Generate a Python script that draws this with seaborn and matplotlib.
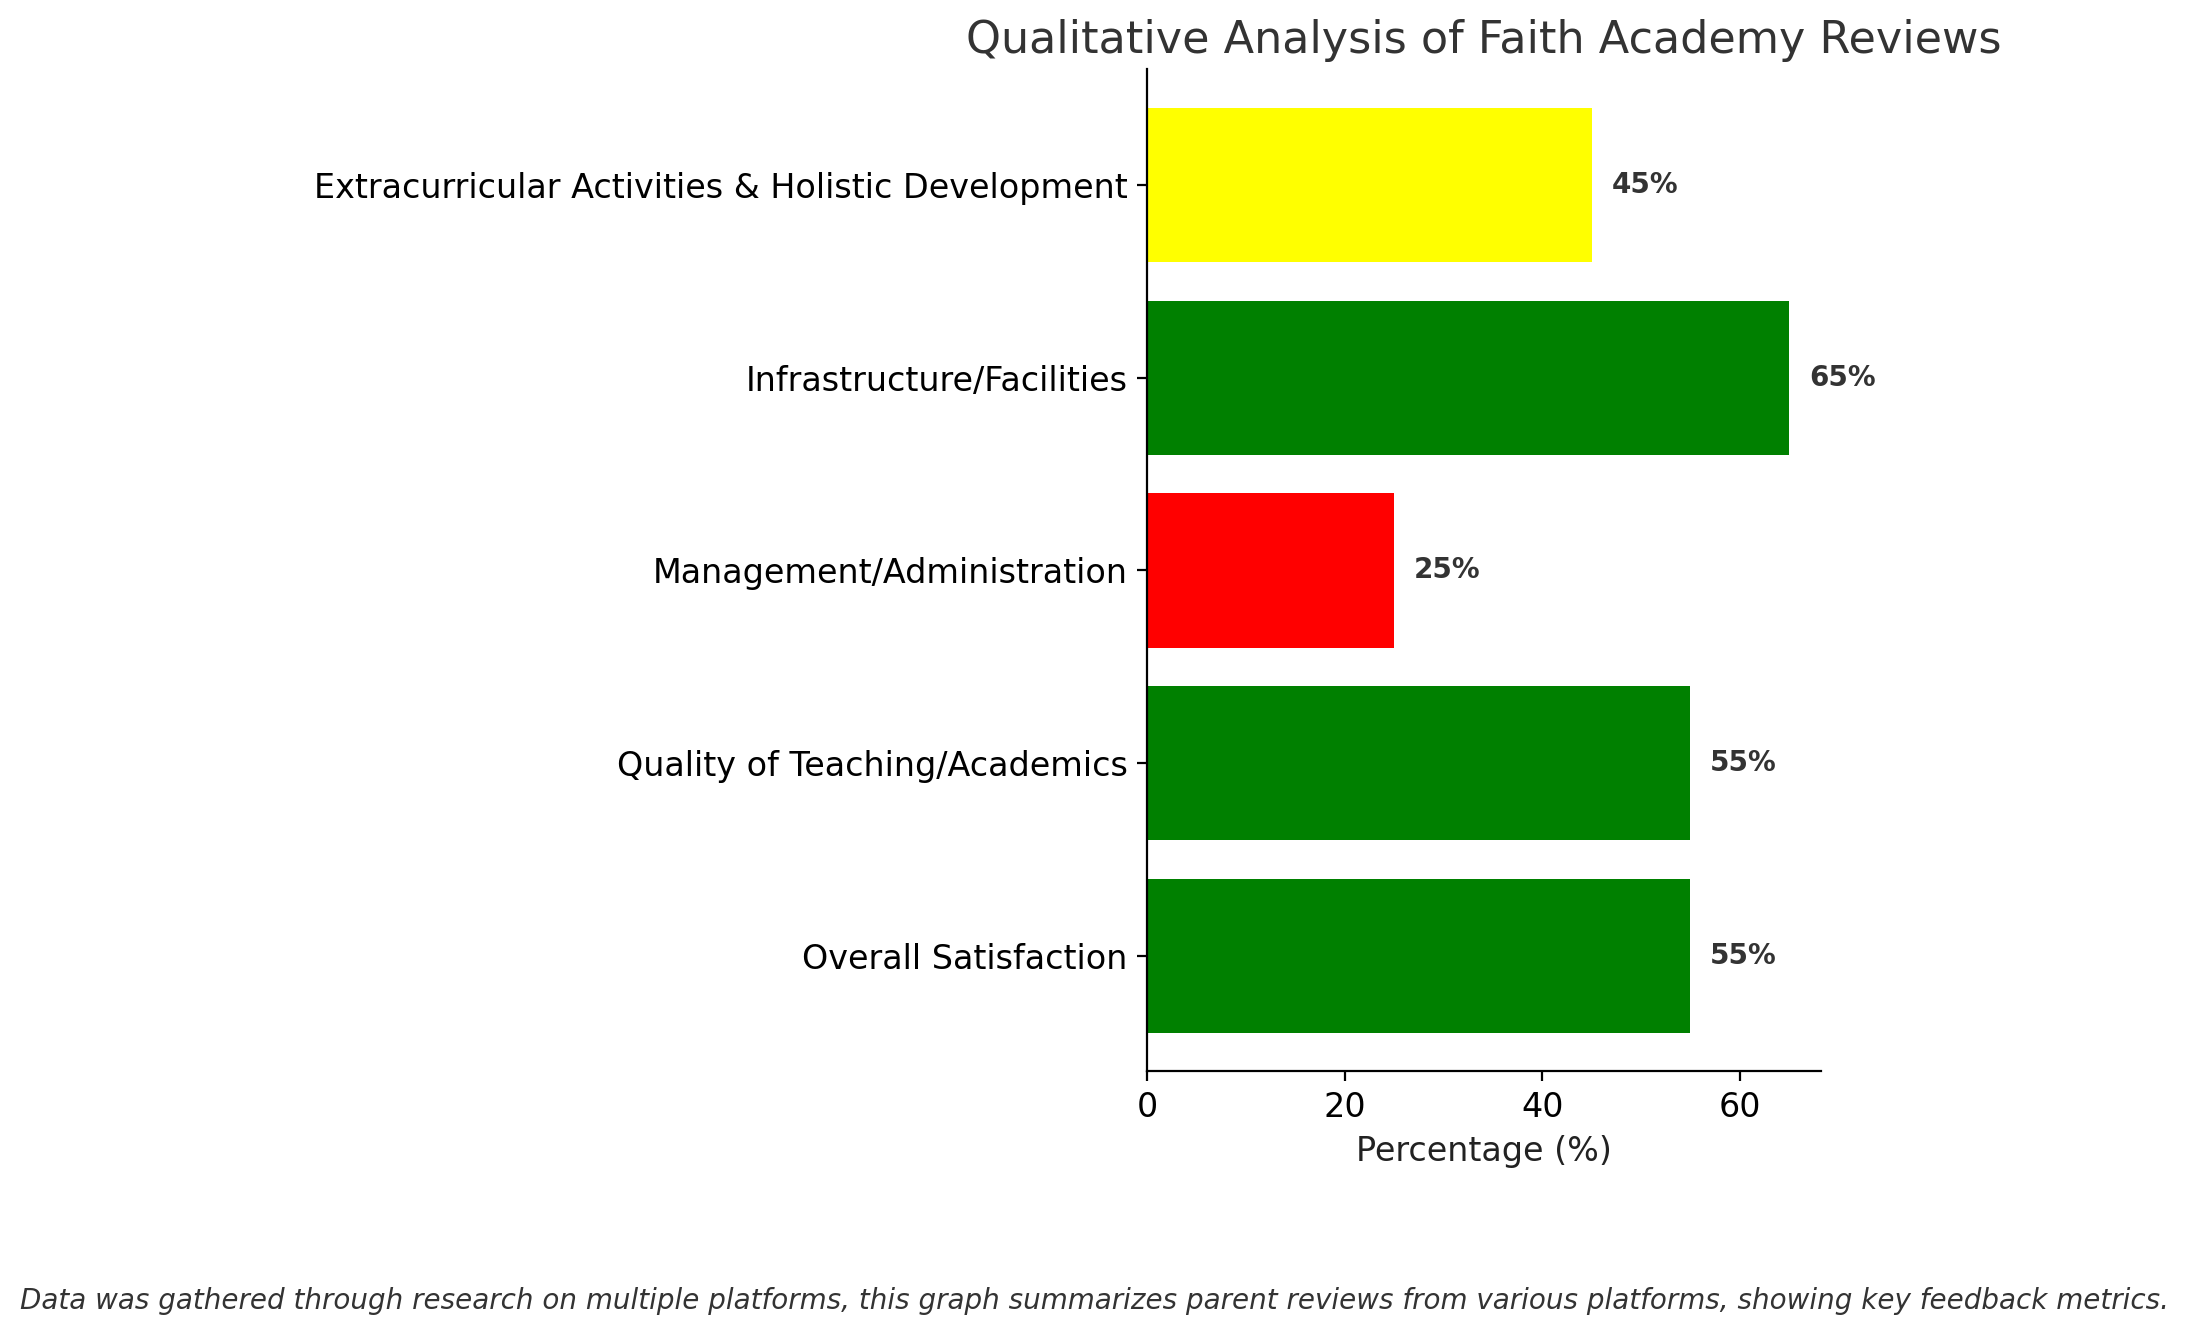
import matplotlib
matplotlib.use("Agg")
import matplotlib.pyplot as plt
import seaborn as sns
import pandas as pd

categories = ["Extracurricular Activities & Holistic Development",
              "Infrastructure/Facilities",
              "Management/Administration",
              "Quality of Teaching/Academics",
              "Overall Satisfaction"]
values = [45, 65, 25, 55, 55]
colors = ["yellow", "green", "red", "green", "green"]

df = pd.DataFrame({"category": categories, "value": values})

fig = plt.figure(figsize=(10.945, 6.68), dpi=200)
ax = fig.add_axes([0.524, 0.198, 0.308, 0.75])
sns.barplot(data=df, y="category", x="value", hue="category", palette=colors,
            legend=False, width=0.8, saturation=1, ax=ax)

for i, v in enumerate(values):
    ax.text(v + 2, i, f"{v}%", va="center", ha="left", fontsize=10,
            fontweight="bold", color="#333333")

ax.set_xlim(0, 68.25)
ax.set_ylim(4.6, -0.6)
ax.spines["top"].set_visible(False)
ax.spines["right"].set_visible(False)
ax.set_ylabel("")
ax.set_xlabel("Percentage (%)", fontsize=12, color="#222222")
ax.tick_params(axis="y", labelsize=12)
ax.tick_params(axis="x", labelsize=12)
ax.set_title("Qualitative Analysis of Faith Academy Reviews", fontsize=16, color="#333333")

fig.text(0.5, 0.026, "Data was gathered through research on multiple platforms, this graph summarizes "
         "parent reviews from various platforms, showing key feedback metrics.",
         ha="center", va="center", fontsize=10, style="italic", color="#333333")

fig.savefig("out.png", dpi=200)
